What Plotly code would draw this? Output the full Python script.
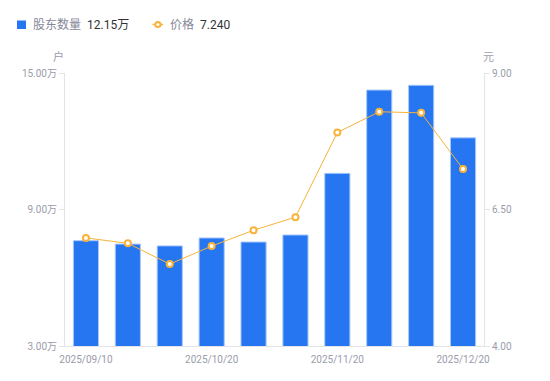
import plotly.graph_objects as go

dates = ["2025/09/10", "2025/09/19", "2025/09/30", "2025/10/20", "2025/10/31",
         "2025/11/10", "2025/11/20", "2025/11/30", "2025/12/10", "2025/12/20"]
holders_wan = [7.63, 7.48, 7.40, 7.75, 7.57, 7.88, 10.59, 14.25, 14.46, 12.15]
price = [5.98, 5.88, 5.50, 5.83, 6.12, 6.36, 7.91, 8.29, 8.27, 7.24]

left_ticks = [3, 9, 15]
left_labels = ["3.00万", "9.00万", "15.00万"]
right_ticks = [4, 6.5, 9]
right_labels = ["4.00", "6.50", "9.00"]
x_tick_idx = [0, 3, 6, 9]

FONT = "Roboto, 'Noto Sans CJK SC', sans-serif"
GREY = "#9a9cab"
AXIS = "#e3e4e8"
BLUE = "#2676f2"
ORANGE = "#f8b33a"

# page body has an 8px default margin; compensate so the chart lands where the reference does
OFF = 8
W, H = 550 - OFF, 381 - OFF
L, R, T, B = 65 - OFF, 66, 73 - OFF, 35
PW, PH = W - L - R, H - T - B


def px(x):  # page pixel -> paper x
    return (x - OFF - L) / PW


def py(y):  # page pixel -> paper y
    return (H - B - (y - OFF)) / PH


fig = go.Figure()
fig.add_trace(go.Bar(
    x=dates, y=holders_wan, name="股东数量",
    marker=dict(color=BLUE, line=dict(color="#a9c8fb", width=1)),
    width=0.6, yaxis="y",
))
fig.add_trace(go.Scatter(
    x=dates, y=price, mode="lines+markers", name="价格",
    line=dict(color=ORANGE, width=1),
    marker=dict(size=6, color="white", line=dict(color=ORANGE, width=2)),
    yaxis="y2",
))

shapes = [
    dict(type="rect", xref="paper", yref="paper", x0=px(17), x1=px(26), y0=py(29), y1=py(20.5),
         fillcolor=BLUE, line=dict(width=0)),
    dict(type="line", xref="paper", yref="paper", x0=px(152.5), x1=px(163), y0=py(24.5), y1=py(24.5),
         line=dict(color=ORANGE, width=1.5)),
    dict(type="circle", xref="paper", yref="paper", x0=px(155.3), x1=px(160.5), y0=py(27.1), y1=py(21.9),
         fillcolor="white", line=dict(color=ORANGE, width=2)),
]

annotations = [
    dict(text="股东数量", x=px(30.5), y=py(25), xanchor="left", yanchor="middle",
         font=dict(size=12, color="#858797")),
    dict(text="%.2f万" % holders_wan[-1], x=px(84.5), y=py(25), xanchor="left", yanchor="middle",
         font=dict(size=12, color="#333333")),
    dict(text="价格", x=px(168), y=py(25), xanchor="left", yanchor="middle",
         font=dict(size=12, color="#858797")),
    dict(text="%.3f" % price[-1], x=px(197.5), y=py(25), xanchor="left", yanchor="middle",
         font=dict(size=12, color="#333333")),
    dict(text="户", x=px(58), y=py(57), xanchor="center", yanchor="middle",
         font=dict(size=11, color=GREY)),
    dict(text="元", x=px(488), y=py(57), xanchor="center", yanchor="middle",
         font=dict(size=11, color=GREY)),
]
for a in annotations:
    a.update(xref="paper", yref="paper", showarrow=False)

fig.update_layout(
    width=W, height=H,
    margin=dict(l=L, r=R, t=T, b=B, autoexpand=False),
    paper_bgcolor="white", plot_bgcolor="white",
    font=dict(family=FONT, size=10, color=GREY),
    showlegend=False,
    xaxis=dict(type="category", tickmode="array",
               tickvals=[dates[i] for i in x_tick_idx],
               ticktext=[dates[i] for i in x_tick_idx],
               showline=True, linecolor=AXIS, linewidth=1,
               ticks="", showgrid=False, tickfont=dict(size=10, color=GREY),
               ticklabelstandoff=4,
               range=[-0.5, len(dates) - 0.5]),
    yaxis=dict(range=[3, 15], tickmode="array", tickvals=left_ticks, ticktext=left_labels,
               showline=True, linecolor=AXIS, linewidth=1, ticks="outside",
               ticklen=5, tickcolor=AXIS, showgrid=False, zeroline=False,
               tickfont=dict(size=10, color=GREY)),
    yaxis2=dict(range=[4, 9], overlaying="y", side="right", tickmode="array",
                tickvals=right_ticks, ticktext=right_labels,
                showline=True, linecolor=AXIS, linewidth=1, ticks="outside",
                ticklen=5, tickcolor=AXIS, showgrid=False, zeroline=False,
                tickfont=dict(size=10, color=GREY)),
    shapes=shapes,
    annotations=annotations,
)

fig.write_html("out.html")
